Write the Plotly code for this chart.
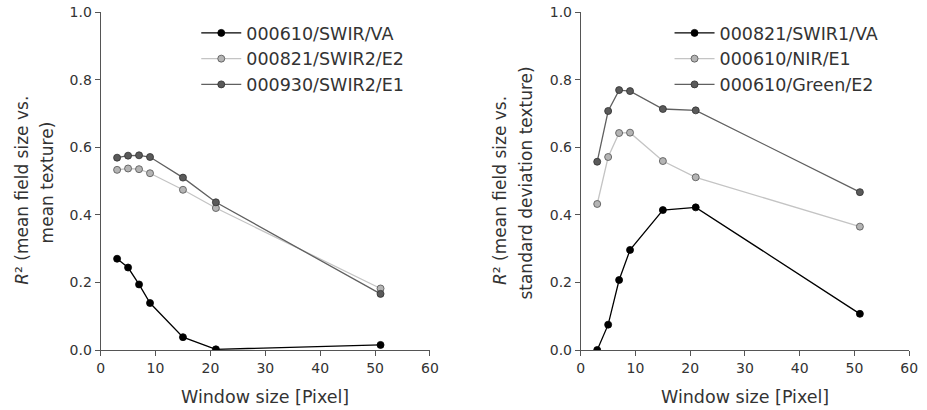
import plotly.graph_objects as go

window = [3, 5, 7, 9, 15, 21, 51]

left_names = ["000610/SWIR/VA", "000821/SWIR2/E2", "000930/SWIR2/E1"]
left_a = [0.270, 0.244, 0.194, 0.139, 0.038, 0.002, 0.015]
left_b = [0.533, 0.537, 0.535, 0.523, 0.474, 0.420, 0.182]
left_c = [0.569, 0.575, 0.576, 0.571, 0.510, 0.437, 0.166]

right_names = ["000821/SWIR1/VA", "000610/NIR/E1", "000610/Green/E2"]
right_a = [0.000, 0.075, 0.207, 0.296, 0.414, 0.422, 0.107]
right_b = [0.432, 0.571, 0.642, 0.643, 0.559, 0.511, 0.365]
right_c = [0.557, 0.707, 0.769, 0.766, 0.713, 0.709, 0.467]

x_ticks = [0, 10, 20, 30, 40, 50, 60]
y_ticks = [0.0, 0.2, 0.4, 0.6, 0.8, 1.0]

styles = [
    dict(line="#000000", fill="#000000", edge="#000000"),
    dict(line="#c4c4c4", fill="#b4b4b4", edge="#505050"),
    dict(line="#606060", fill="#5a5a5a", edge="#303030"),
]

FONT = "DejaVu Sans"
TXT = "#333333"
W, H = 927, 410
T, B = 12, 60
PH = H - T - B


def px(x):
    return x / W


def py(y):
    return (H - B - y) / PH


fig = go.Figure()

for names, series, xa, ya, leg in [
    (left_names, [left_a, left_b, left_c], "x", "y", "legend"),
    (right_names, [right_a, right_b, right_c], "x2", "y2", "legend2"),
]:
    for name, vals, st in zip(names, series, styles):
        fig.add_trace(go.Scatter(
            x=window, y=vals, name=name, mode="lines+markers",
            xaxis=xa, yaxis=ya, legend=leg,
            line=dict(color=st["line"], width=1.3),
            marker=dict(size=7, color=st["fill"], line=dict(color=st["edge"], width=0.8)),
        ))

axis_common = dict(
    showgrid=False, zeroline=False, showline=True, linecolor="#555555", linewidth=1,
    ticks="outside", ticklen=5, tickcolor="#555555",
    tickfont=dict(family=FONT, size=14, color=TXT),
    ticklabeloverflow="allow",
)

legend_common = dict(
    xanchor="left", yanchor="top",
    font=dict(family=FONT, size=17.5, color=TXT),
    bgcolor="rgba(0,0,0,0)", tracegroupgap=0, itemwidth=40,
)

annotations = []
for text, xc, yc in [
    ("Window size [Pixel]", (98 + 432) / 2, 397),
    ("Window size [Pixel]", (585 + 918) / 2, 397),
]:
    annotations.append(dict(text=text, x=px(xc), y=py(yc), xref="paper", yref="paper",
                            showarrow=False, xanchor="center", yanchor="middle",
                            font=dict(family=FONT, size=17.5, color=TXT)))
for text, xc, yc in [
    ("<i>R</i>² (mean field size vs.", 18, 190),
    ("mean texture)", 44, 182),
    ("<i>R</i>² (mean field size vs.", 503, 190),
    ("standard deviation texture)", 529, 183),
]:
    annotations.append(dict(text=text, textangle=-90, x=px(xc), y=py(yc),
                            xref="paper", yref="paper", showarrow=False,
                            xanchor="center", yanchor="middle",
                            font=dict(family=FONT, size=17, color=TXT)))

fig.update_layout(
    width=W, height=H,
    margin=dict(l=0, r=0, t=T, b=B),
    paper_bgcolor="white", plot_bgcolor="white",
    font=dict(family=FONT, color=TXT),
    xaxis=dict(domain=[px(98), px(432)], range=[0, 60], tickvals=x_ticks, anchor="y",
               **axis_common),
    yaxis=dict(domain=[0, 1], range=[0, 1], tickvals=y_ticks, tickformat=".1f", anchor="x",
               **axis_common),
    xaxis2=dict(domain=[px(585), px(918)], range=[0, 60], tickvals=x_ticks, anchor="y2",
                **axis_common),
    yaxis2=dict(domain=[0, 1], range=[0, 1], tickvals=y_ticks, tickformat=".1f", anchor="x2",
                **axis_common),
    legend=dict(x=px(195), y=py(15), **legend_common),
    legend2=dict(x=px(675), y=py(15), **legend_common),
    showlegend=True,
    annotations=annotations,
)

fig.write_html("out.html", config={"displayModeBar": False},
               post_script="document.body.style.margin='0';")
